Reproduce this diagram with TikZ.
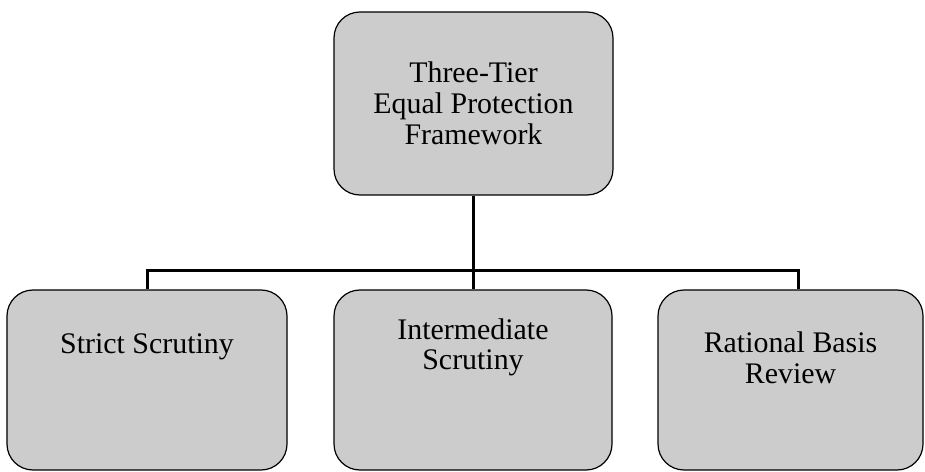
\documentclass[tikz,border=0pt]{standalone}
\usepackage{fontspec}
\setmainfont{Liberation Serif}
\usetikzlibrary{positioning}

\begin{document}
\begin{tikzpicture}[x=1bp, y=-1bp]
    \tikzstyle{tier}=[draw, line width=1.2bp, rounded corners=26bp, fill=black!20, inner sep=0pt, align=center, font=\fontsize{30}{31}\selectfont]
    \tikzstyle{lbl}=[anchor=center, align=center, inner sep=0pt, font=\fontsize{30}{31}\selectfont]
    \tikzstyle{link}=[line width=3bp]
    \useasboundingbox (0,0) rectangle (925,472);
    \node[tier, minimum width=279bp, minimum height=183bp] (frame) at (473.5,103.5) {Three-Tier\\Equal Protection\\Framework} ;
    \node[tier, minimum width=280bp, minimum height=180bp, label={[lbl, yshift=-57bp]north:Strict Scrutiny}] (strict) at (147,380) {} ;
    \node[tier, minimum width=278bp, minimum height=180bp, label={[lbl, yshift=-58bp]north:Intermediate\\Scrutiny}] (inter) at (473,380) {} ;
    \node[tier, minimum width=265bp, minimum height=180bp, label={[lbl, yshift=-68bp]north:Rational Basis\\Review}] (rational) at (790.5,380) {} ;
    \coordinate[below=75bp of frame.south] (bus);
    \draw[link] (frame) -- (bus);
    \foreach \j/\dx in {strict/0, inter/0, rational/8}
    {\draw[link] ([xshift=\dx bp]\j.north) |- (bus);}
\end{tikzpicture}
\end{document}
